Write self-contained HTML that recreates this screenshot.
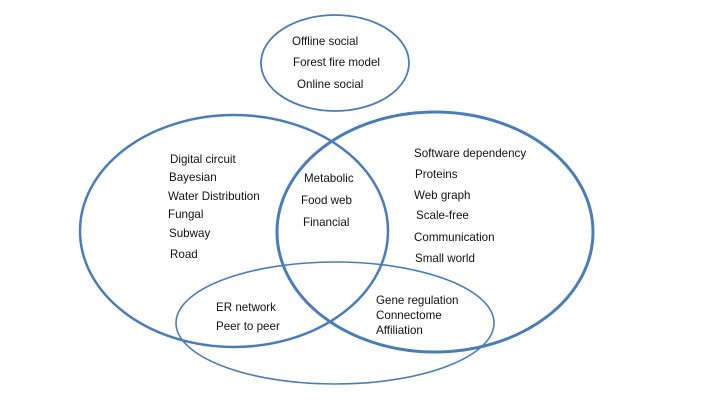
<!DOCTYPE html>
<html><head><meta charset="utf-8"><style>
html,body{margin:0;padding:0;background:#fff;width:720px;height:405px;overflow:hidden}
svg text{font-family:"Liberation Sans",sans-serif;font-size:11.6px;fill:#111}
</style></head><body>
<svg width="720" height="405" viewBox="0 0 720 405" xmlns="http://www.w3.org/2000/svg">
<g fill="none" stroke="#4a7db8">
<ellipse cx="335" cy="63" rx="74" ry="48" stroke-width="1.8"/>
<ellipse cx="234" cy="231" rx="154" ry="116" stroke-width="2.5"/>
<ellipse cx="435" cy="232" rx="158" ry="120" stroke-width="3"/>
<ellipse cx="335" cy="323" rx="159" ry="61" stroke-width="1.6"/>
</g>
<text x="292" y="45">Offline social</text>
<text x="293" y="66">Forest fire model</text>
<text x="297" y="88">Online social</text>
<text x="170" y="163">Digital circuit</text>
<text x="169" y="181">Bayesian</text>
<text x="168" y="200">Water Distribution</text>
<text x="168" y="218">Fungal</text>
<text x="169" y="237">Subway</text>
<text x="170" y="258">Road</text>
<text x="304" y="182">Metabolic</text>
<text x="301" y="204">Food web</text>
<text x="303" y="226">Financial</text>
<text x="414" y="157">Software dependency</text>
<text x="415" y="178">Proteins</text>
<text x="414" y="199">Web graph</text>
<text x="416" y="219">Scale-free</text>
<text x="414" y="241">Communication</text>
<text x="415" y="262">Small world</text>
<text x="216" y="311">ER network</text>
<text x="216" y="330">Peer to peer</text>
<text x="376" y="304">Gene regulation</text>
<text x="376" y="319">Connectome</text>
<text x="376" y="334">Affiliation</text>
</svg>
</body></html>
